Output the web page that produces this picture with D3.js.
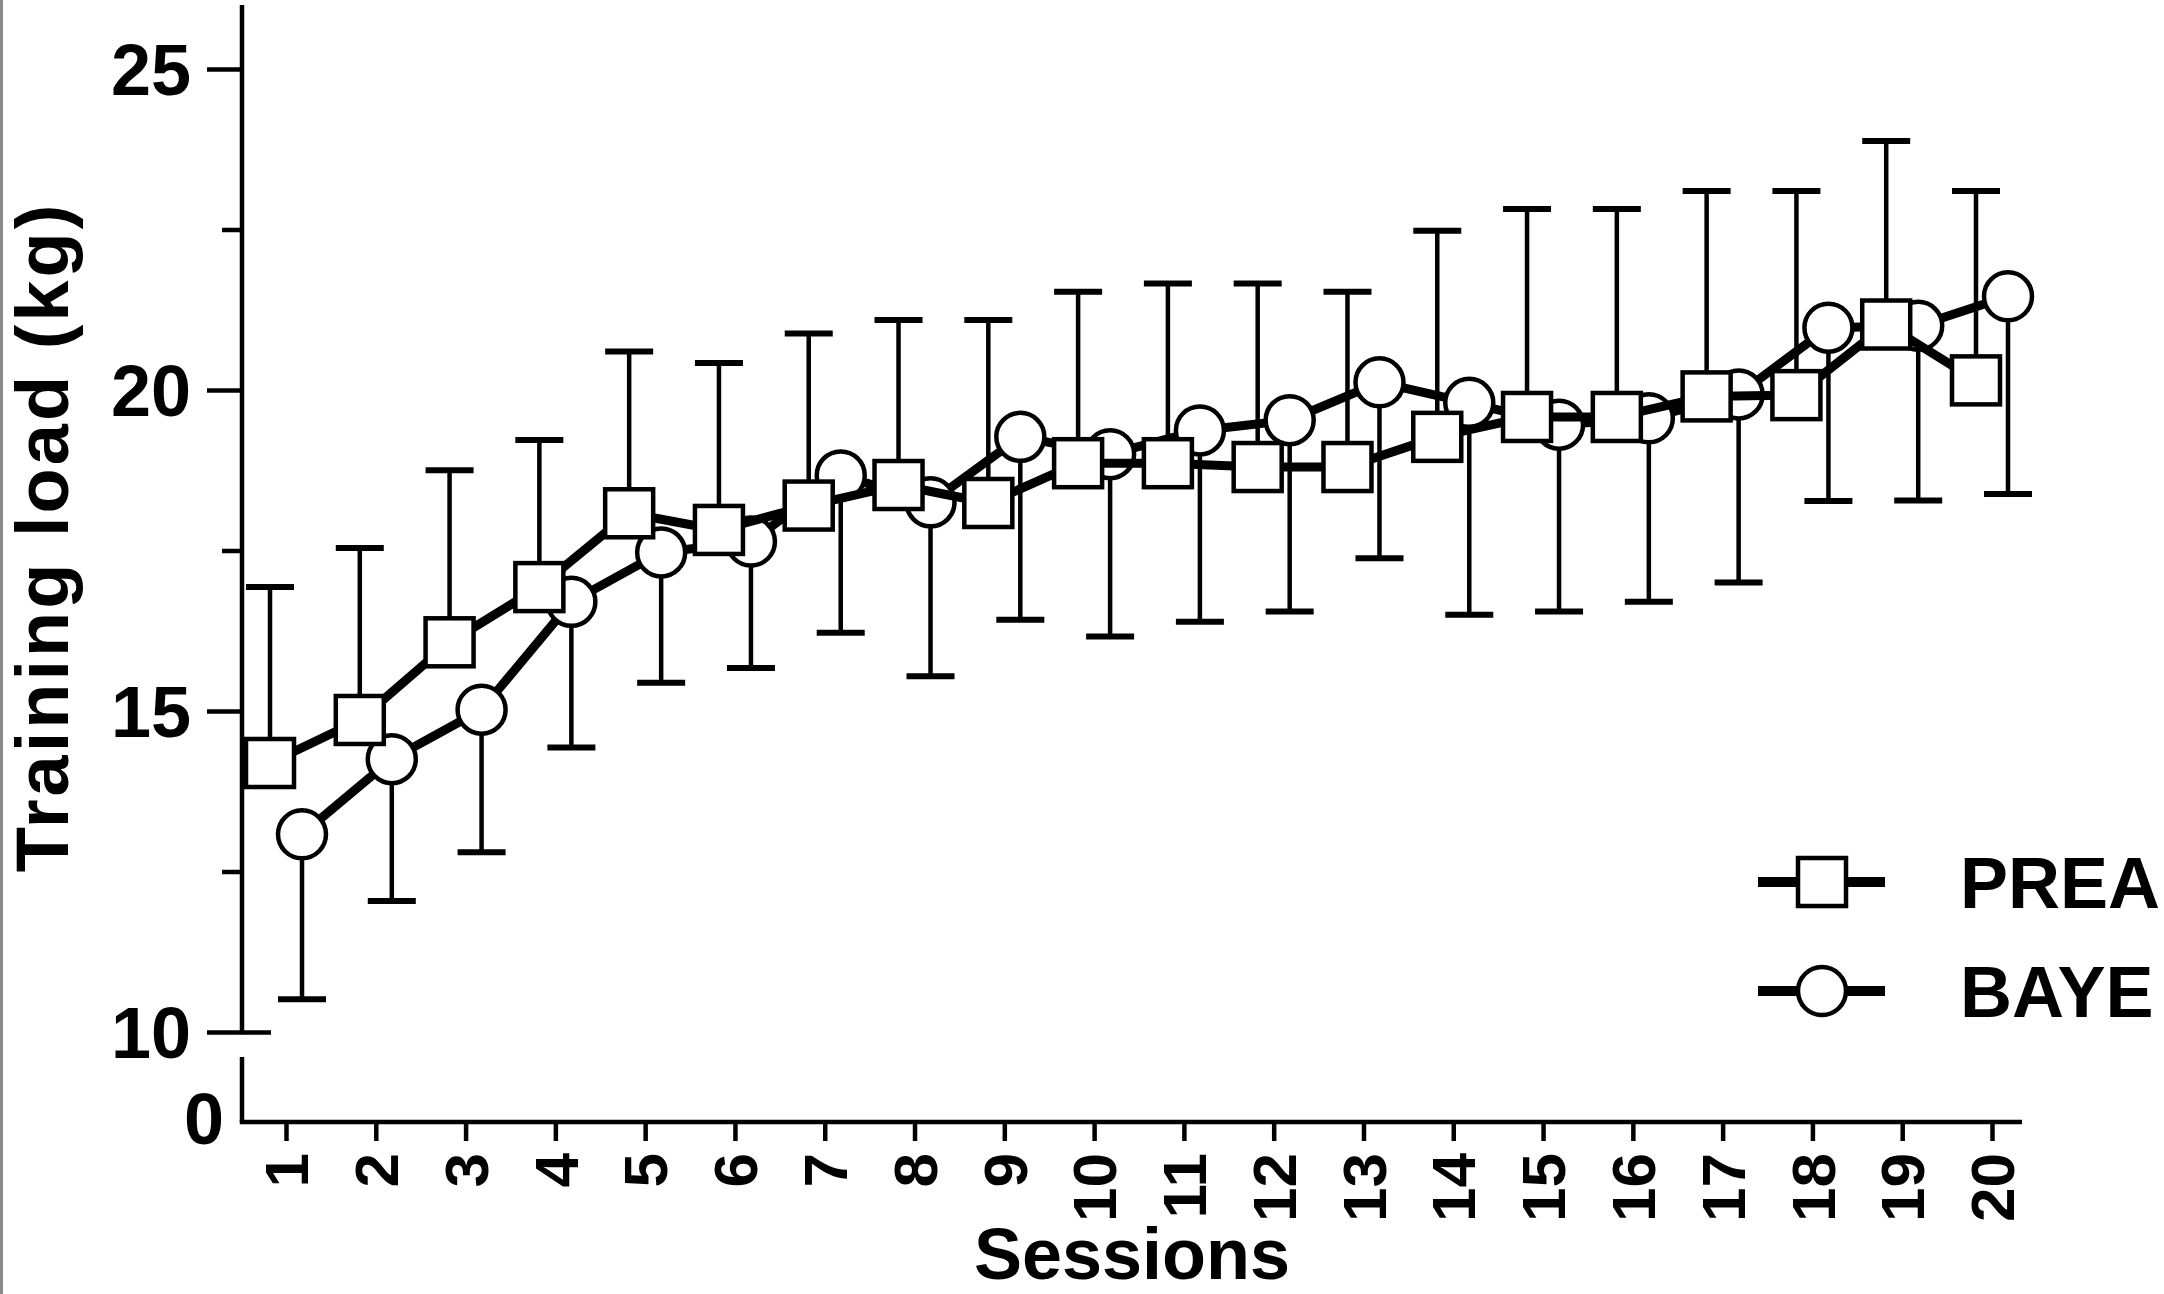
<!DOCTYPE html>
<html>
<head>
<meta charset="utf-8">
<script src="https://cdn.jsdelivr.net/npm/d3@7/dist/d3.min.js"></script>
<style>
  html, body { margin: 0; padding: 0; background: #fff; }
  svg { display: block; }
  text { font-family: "Liberation Sans", Arial, Helvetica, sans-serif; font-weight: bold; fill: #000; }
</style>
</head>
<body>
<svg id="chart" width="2164" height="1294"></svg>
<script>
// ---- data ----
const sessions = d3.range(1, 21);
const xTickLabels = sessions.map(String);
const yTickValues = [10, 15, 20, 25];
const yMinorValues = [12.5, 17.5, 22.5];
const seriesNames = ["PREA", "BAYE"];

const preaMean = [14.19, 14.86, 16.07, 16.93, 18.08, 17.82, 18.20, 18.52, 18.24, 18.86,
                  18.86, 18.80, 18.80, 19.27, 19.58, 19.58, 19.90, 19.92, 21.02, 20.15];
const preaSD   = [2.74, 2.68, 2.68, 2.29, 2.52, 2.60, 2.68, 2.57, 2.85, 2.67,
                  2.80, 2.86, 2.73, 3.21, 3.24, 3.24, 3.20, 3.18, 2.86, 2.95];
const bayeMean = [13.08, 14.25, 15.02, 16.70, 17.47, 17.64, 18.67, 18.25, 19.27, 19.00,
                  19.37, 19.53, 20.12, 19.80, 19.46, 19.56, 19.93, 20.97, 21.00, 21.46];
const bayeSD   = [2.57, 2.21, 2.22, 2.27, 2.03, 1.97, 2.45, 2.71, 2.85, 2.84,
                  2.98, 2.98, 2.74, 3.30, 2.91, 2.86, 2.93, 2.70, 2.72, 3.08];

// ---- layout ----
const svg = d3.select("#chart");
svg.append("rect").attr("width", 2164).attr("height", 1294).attr("fill", "#fff");
// faint border line at left edge
svg.append("line").attr("x1", 1.5).attr("x2", 1.5).attr("y1", 0).attr("y2", 1294)
  .attr("stroke", "#8a8a8a").attr("stroke-width", 3);

const axisX0 = 242, axisX1 = 2022, axisY = 1122;
const x = d3.scaleLinear().domain([1, 20]).range([286, 1992]);
const y = d3.scaleLinear().domain([10, 25]).range([1032, 69]);
const yLow = d3.scaleLinear().domain([0, 1]).range([axisY, 1057]);
const offset = { PREA: -16, BAYE: 16 };

const AX_W = 4.5;

// ---- y axis (upper segment) ----
const gY = svg.append("g").attr("transform", `translate(${axisX0},0)`);
gY.call(d3.axisLeft(y).tickValues(yTickValues).tickSize(35).tickPadding(16)
  .tickSizeOuter(0).tickFormat(d3.format("d")));
gY.select(".domain").remove();
gY.selectAll(".tick line").attr("stroke", "#000").attr("stroke-width", AX_W);
gY.selectAll(".tick text").attr("font-size", 72).attr("font-weight", "bold")
  .attr("font-family", '"Liberation Sans", Arial, sans-serif').attr("fill", "#000").attr("dy", "0.36em");
// 10 tick extends to the right (end cap of broken axis)
gY.selectAll(".tick").filter(d => d === 10).append("line")
  .attr("x1", 0).attr("x2", 29).attr("stroke", "#000").attr("stroke-width", AX_W);
// minor ticks
const gYm = svg.append("g").attr("transform", `translate(${axisX0},0)`);
gYm.call(d3.axisLeft(y).tickValues(yMinorValues).tickSize(20).tickFormat(""));
gYm.select(".domain").remove();
gYm.selectAll(".tick line").attr("stroke", "#000").attr("stroke-width", AX_W);
// axis line upper
svg.append("line").attr("x1", axisX0).attr("x2", axisX0)
  .attr("y1", 5).attr("y2", y(10) + AX_W / 2)
  .attr("stroke", "#000").attr("stroke-width", AX_W);
// lower segment
svg.append("line").attr("x1", axisX0).attr("x2", axisX0)
  .attr("y1", yLow(1)).attr("y2", yLow(0))
  .attr("stroke", "#000").attr("stroke-width", AX_W);
svg.append("text").attr("x", axisX0 - 18).attr("y", yLow(0)).attr("dy", "0.3em")
  .attr("text-anchor", "end").attr("font-size", 72).text("0");

// ---- x axis ----
svg.append("line").attr("x1", axisX0 - AX_W / 2).attr("x2", axisX1)
  .attr("y1", axisY).attr("y2", axisY).attr("stroke", "#000").attr("stroke-width", AX_W);
const gX = svg.append("g").attr("transform", `translate(0,${axisY})`);
gX.call(d3.axisBottom(x).tickValues(sessions).tickSize(19).tickSizeOuter(0)
  .tickFormat((d, i) => xTickLabels[i]));
gX.select(".domain").remove();
gX.selectAll(".tick line").attr("stroke", "#000").attr("stroke-width", AX_W);
gX.selectAll(".tick text")
  .attr("font-size", 62).attr("font-weight", "bold")
  .attr("font-family", '"Liberation Sans", Arial, sans-serif').attr("fill", "#000")
  .attr("text-anchor", "end")
  .attr("transform", "translate(0,31) rotate(-90)")
  .attr("x", 0).attr("y", 0).attr("dy", "0.35em");

// ---- axis titles ----
svg.append("text").attr("x", (axisX0 + axisX1) / 2).attr("y", 1279)
  .attr("text-anchor", "middle").attr("font-size", 72).text("Sessions");
svg.append("text").attr("transform", "translate(68,537) rotate(-90)")
  .attr("text-anchor", "middle").attr("font-size", 74).attr("letter-spacing", 3)
  .text("Training load (kg)");

// ---- series ----
const data = {
  PREA: sessions.map((s, i) => ({ s, m: preaMean[i], sd: preaSD[i] })),
  BAYE: sessions.map((s, i) => ({ s, m: bayeMean[i], sd: bayeSD[i] }))
};
const CAP = 48, SQ = 48, R = 24;

function drawSeries(name, dir) {
  const g = svg.append("g");
  const pts = data[name];
  const px = d => x(d.s) + offset[name];
  // error bars
  pts.forEach(d => {
    const yEnd = y(d.m + dir * d.sd);
    g.append("line").attr("x1", px(d)).attr("x2", px(d))
      .attr("y1", y(d.m)).attr("y2", yEnd).attr("stroke", "#000").attr("stroke-width", 4.5);
    g.append("line").attr("x1", px(d) - CAP / 2).attr("x2", px(d) + CAP / 2)
      .attr("y1", yEnd).attr("y2", yEnd).attr("stroke", "#000").attr("stroke-width", 6);
  });
  // connecting line
  g.append("path").datum(pts)
    .attr("d", d3.line().x(px).y(d => y(d.m)))
    .attr("fill", "none").attr("stroke", "#000").attr("stroke-width", 9)
    .attr("stroke-linejoin", "round");
  // markers
  if (name === "PREA") {
    g.selectAll("rect.m").data(pts).join("rect").attr("class", "m")
      .attr("x", d => px(d) - SQ / 2).attr("y", d => y(d.m) - SQ / 2)
      .attr("width", SQ).attr("height", SQ)
      .attr("fill", "#fff").attr("stroke", "#000").attr("stroke-width", 4.5);
  } else {
    g.selectAll("circle.m").data(pts).join("circle").attr("class", "m")
      .attr("cx", px).attr("cy", d => y(d.m)).attr("r", R)
      .attr("fill", "#fff").attr("stroke", "#000").attr("stroke-width", 4.5);
  }
}
drawSeries("BAYE", -1);
drawSeries("PREA", 1);

// ---- legend ----
const legY = [882, 991];
seriesNames.forEach((name, i) => {
  const g = svg.append("g").attr("transform", `translate(0,${legY[i]})`);
  g.append("line").attr("x1", 1758).attr("x2", 1885).attr("y1", 0).attr("y2", 0)
    .attr("stroke", "#000").attr("stroke-width", 10);
  if (name === "PREA") {
    g.append("rect").attr("x", 1822 - SQ / 2).attr("y", -SQ / 2).attr("width", SQ).attr("height", SQ)
      .attr("fill", "#fff").attr("stroke", "#000").attr("stroke-width", 4.5);
  } else {
    g.append("circle").attr("cx", 1822).attr("cy", 0).attr("r", R)
      .attr("fill", "#fff").attr("stroke", "#000").attr("stroke-width", 4.5);
  }
  g.append("text").attr("x", 1960).attr("y", 26).attr("font-size", 72).text(name);
});
</script>
</body>
</html>
